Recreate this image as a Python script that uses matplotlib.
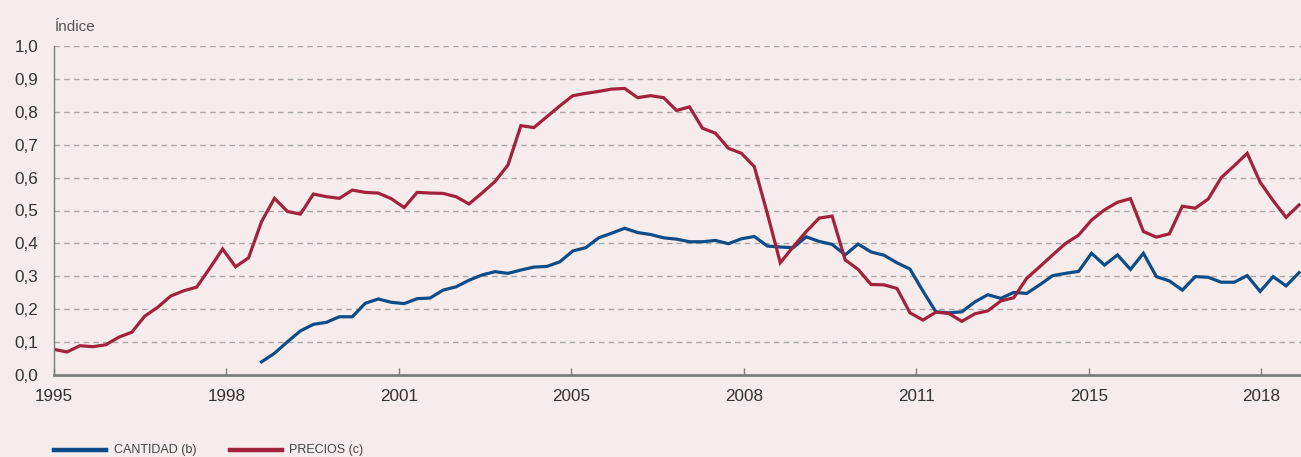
import numpy as np
import matplotlib
matplotlib.use("Agg")
import matplotlib.pyplot as plt
from matplotlib import font_manager
from matplotlib.lines import Line2D

# --- DATA (quarterly index values) ---
precios = [0.078, 0.070, 0.089, 0.086, 0.092, 0.115, 0.130, 0.179, 0.206, 0.240,
           0.256, 0.267, 0.324, 0.383, 0.329, 0.356, 0.466, 0.537, 0.497, 0.489,
           0.550, 0.542, 0.537, 0.562, 0.555, 0.553, 0.536, 0.509, 0.555, 0.553,
           0.552, 0.542, 0.520, 0.553, 0.588, 0.638, 0.758, 0.752, 0.785, 0.818,
           0.849, 0.856, 0.862, 0.869, 0.871, 0.843, 0.849, 0.843, 0.804, 0.815,
           0.750, 0.735, 0.689, 0.674, 0.633, 0.491, 0.341, 0.390, 0.436, 0.477,
           0.483, 0.350, 0.321, 0.275, 0.274, 0.263, 0.189, 0.167, 0.191, 0.187,
           0.163, 0.186, 0.195, 0.225, 0.235, 0.294, 0.329, 0.365, 0.400, 0.425,
           0.471, 0.502, 0.525, 0.536, 0.436, 0.419, 0.429, 0.513, 0.507, 0.535,
           0.600, 0.636, 0.674, 0.586, 0.530, 0.479, 0.517]

cantidad_start = 16
cantidad = [0.040, 0.066, 0.101, 0.134, 0.154, 0.160, 0.177, 0.177, 0.218, 0.231,
            0.221, 0.217, 0.232, 0.234, 0.258, 0.268, 0.288, 0.304, 0.314, 0.309,
            0.319, 0.328, 0.330, 0.344, 0.377, 0.387, 0.417, 0.431, 0.446, 0.433,
            0.427, 0.417, 0.413, 0.405, 0.405, 0.409, 0.399, 0.414, 0.421, 0.392,
            0.389, 0.387, 0.420, 0.406, 0.397, 0.365, 0.398, 0.374, 0.364, 0.341,
            0.322, 0.255, 0.192, 0.189, 0.192, 0.222, 0.244, 0.233, 0.251, 0.248,
            0.274, 0.302, 0.309, 0.315, 0.370, 0.334, 0.365, 0.321, 0.370, 0.299,
            0.286, 0.258, 0.299, 0.297, 0.282, 0.282, 0.302, 0.254, 0.299, 0.271,
            0.311]

year_labels = ["1995", "1998", "2001", "2005", "2008", "2011", "2015", "2018"]
y_ticks = [0.0, 0.1, 0.2, 0.3, 0.4, 0.5, 0.6, 0.7, 0.8, 0.9, 1.0]
series_names = ["CANTIDAD (b)", "PRECIOS (c)"]

BG = "#f7ecec"
RED = "#a2223d"
BLUE = "#0d4c87"
GRAY = "#7c7c7c"
TXT = "#333333"

W, H = 1301, 457

installed = {f.name for f in font_manager.fontManager.ttflist}
base_font = "Liberation Sans" if "Liberation Sans" in installed else "DejaVu Sans"
if "Liberation Sans Narrow" in installed:
    narrow_font, legend_size = "Liberation Sans Narrow", 10.5
else:
    narrow_font, legend_size = base_font, 9.0
plt.rcParams["font.family"] = [base_font, "DejaVu Sans"]

fig = plt.figure(figsize=(W / 100, H / 100), dpi=100, facecolor=BG)
ax = fig.add_axes([54 / W, 1 - 375 / H, 1 - 54 / W, (375 - 46) / H])
ax.set_facecolor(BG)

x_prec = np.arange(len(precios))
x_cant = np.arange(cantidad_start, cantidad_start + len(cantidad))
ax.plot(x_cant, cantidad, color=BLUE, lw=2.3, solid_joinstyle="miter")
ax.plot(x_prec, precios, color=RED, lw=2.3, solid_joinstyle="miter")

ax.set_xlim(0, 96.15)
ax.set_ylim(0, 1.0)

# ticks on the category axis every ~13.3 quarters
tick_pos = np.arange(len(year_labels)) * 13.3
ax.set_xticks(tick_pos)
ax.set_xticklabels(year_labels)
ax.set_yticks(y_ticks)
ax.set_yticklabels([f"{v:.1f}".replace(".", ",") for v in y_ticks])

ax.tick_params(axis="x", direction="in", length=5, width=1, color=GRAY,
               labelsize=12.3, labelcolor=TXT, pad=10)
ax.tick_params(axis="y", length=0, labelsize=12.3, labelcolor=TXT, pad=11.5)

for v in y_ticks[1:]:
    ax.axhline(v, color="#a9a5a5", lw=1, ls=(0, (4, 3)), zorder=0)

for s in ["top", "right"]:
    ax.spines[s].set_visible(False)
ax.spines["left"].set_color(GRAY)
ax.spines["left"].set_linewidth(1)
ax.spines["bottom"].set_color(GRAY)
ax.spines["bottom"].set_linewidth(2)

fig.text(55 / W, 1 - 27 / H, "Índice", fontsize=11, color="#555555",
         ha="left", va="center")

# --- legend drawn by hand so it sits where the original one is ---
leg_y = 1 - 450 / H
for (x0, x1, tx), col, name in zip([(54, 106, 114), (230, 282, 289)], [BLUE, RED], series_names):
    fig.add_artist(Line2D([x0 / W, x1 / W], [leg_y, leg_y], color=col, lw=3.2,
                          transform=fig.transFigure))
    fig.text(tx / W, leg_y, name, fontsize=legend_size, family=narrow_font,
             color="#444444", ha="left", va="center")

fig.savefig("out.png", dpi=100, facecolor=BG)
